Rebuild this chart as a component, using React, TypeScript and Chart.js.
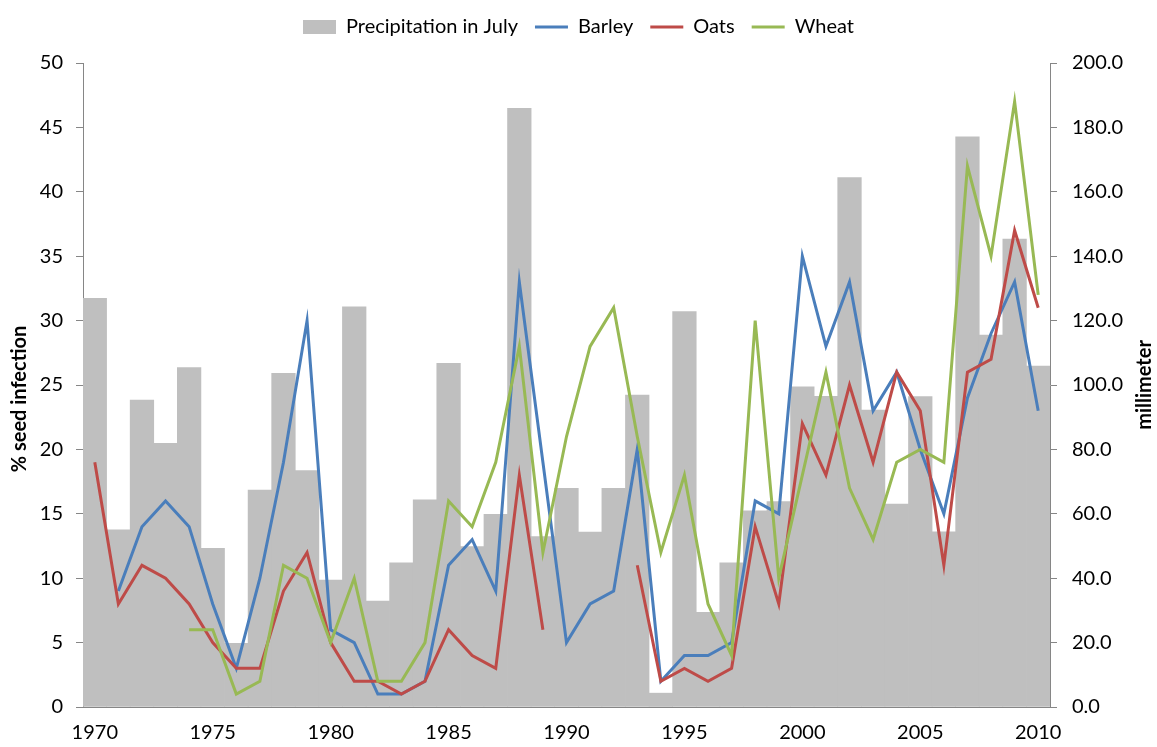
import React, { useEffect, useRef } from 'react';
import { Chart, registerables } from 'chart.js';

Chart.register(...registerables);

const years: string[] = [
  '1970', '1971', '1972', '1973', '1974', '1975', '1976', '1977', '1978', '1979',
  '1980', '1981', '1982', '1983', '1984', '1985', '1986', '1987', '1988', '1989',
  '1990', '1991', '1992', '1993', '1994', '1995', '1996', '1997', '1998', '1999',
  '2000', '2001', '2002', '2003', '2004', '2005', '2006', '2007', '2008', '2009', '2010',
];

const precipitation: number[] = [
  126.9, 55.0, 95.3, 81.9, 105.4, 49.3, 19.8, 67.4, 103.6, 73.4,
  39.4, 124.3, 32.9, 44.8, 64.3, 106.7, 49.8, 59.8, 185.9, 52.9,
  67.9, 54.3, 67.9, 96.9, 4.3, 122.8, 29.4, 44.8, 60.9, 63.8,
  99.4, 96.5, 164.4, 92.2, 63.0, 96.4, 54.4, 177.1, 115.5, 145.3, 105.9,
];

const barley: (number | null)[] = [
  null, 9, 14, 16, 14, 8, 3, 10, 19, 30,
  6, 5, 1, 1, 2, 11, 13, 9, 33, 19,
  5, 8, 9, 20, 2, 4, 4, 5, 16, 15,
  35, 28, 33, 23, 26, 20, 15, 24, 29, 33, 23,
];

const oats: (number | null)[] = [
  19, 8, 11, 10, 8, 5, 3, 3, 9, 12,
  5, 2, 2, 1, 2, 6, 4, 3, 18, 6,
  null, null, null, 11, 2, 3, 2, 3, 14, 8,
  22, 18, 25, 19, 26, 23, 11, 26, 27, 37, 31,
];

const wheat: (number | null)[] = [
  null, null, null, null, 6, 6, 1, 2, 11, 10,
  5, 10, 2, 2, 5, 16, 14, 19, 28, 12,
  21, 28, 31, 21, 12, 18, 8, 4, 30, 10,
  18, 26, 17, 13, 19, 20, 19, 42, 35, 47, 32,
];

const leftTitle = '% seed infection';
const rightTitle = 'millimeter';

const FONT = 'Lato, "Open Sans", sans-serif';
const AXIS = '#868686';
const FS = 20;

export default function App() {
  const ref = useRef<HTMLCanvasElement | null>(null);

  useEffect(() => {
    let chart: Chart | null = null;
    let cancelled = false;

    const titles = {
      id: 'axisTitles',
      afterDraw(c: any) {
        const ctx = c.ctx;
        const area = c.chartArea;
        ctx.save();
        ctx.font = 'bold ' + FS + 'px ' + FONT;
        ctx.fillStyle = '#000';
        ctx.textAlign = 'center';
        ctx.textBaseline = 'middle';
        ctx.save();
        ctx.translate(20, 399);
        ctx.rotate(-Math.PI / 2);
        ctx.fillText(leftTitle, 0, 0);
        ctx.restore();
        ctx.save();
        ctx.translate(1145, (area.top + area.bottom) / 2);
        ctx.rotate(-Math.PI / 2);
        ctx.fillText(rightTitle, 0, 0);
        ctx.restore();
        ctx.restore();
      },
    };

    const create = () => {
      if (cancelled || !ref.current) return;
      chart = new Chart(ref.current, {
        type: 'bar',
        data: {
          labels: years,
          datasets: [
            {
              type: 'bar',
              label: 'Precipitation in July',
              data: precipitation,
              backgroundColor: '#BFBFBF',
              borderWidth: 0,
              yAxisID: 'y1',
              xAxisID: 'x',
              order: 10,
              barPercentage: 1,
              categoryPercentage: 1,
              pointStyle: 'rect',
            } as any,
            {
              type: 'line',
              label: 'Barley',
              data: barley,
              borderColor: '#4A7EBB',
              backgroundColor: '#4A7EBB',
              borderWidth: 3,
              pointRadius: 0,
              pointStyle: 'line',
              tension: 0,
              yAxisID: 'y',
              xAxisID: 'x',
              order: 3,
            } as any,
            {
              type: 'line',
              label: 'Oats',
              data: oats,
              borderColor: '#BE4B48',
              backgroundColor: '#BE4B48',
              borderWidth: 3,
              pointRadius: 0,
              pointStyle: 'line',
              tension: 0,
              yAxisID: 'y',
              xAxisID: 'x',
              order: 2,
            } as any,
            {
              type: 'line',
              label: 'Wheat',
              data: wheat,
              borderColor: '#98B954',
              backgroundColor: '#98B954',
              borderWidth: 3,
              pointRadius: 0,
              pointStyle: 'line',
              tension: 0,
              yAxisID: 'y',
              xAxisID: 'x',
              order: 1,
            } as any,
          ],
        },
        options: {
          responsive: false,
          animation: false,
          layout: { padding: { top: 0, left: 0, right: 0, bottom: 0 } },
          plugins: {
            legend: {
              position: 'top',
              labels: {
                usePointStyle: true,
                pointStyleWidth: 33,
                boxHeight: 14,
                padding: 17,
                color: '#000',
                font: { family: FONT, size: FS },
                sort: (a: any, b: any) => a.datasetIndex - b.datasetIndex,
              },
            },
            tooltip: { enabled: false },
          },
          scales: {
            x: {
              type: 'category',
              position: 'bottom',
              offset: true,
              grid: { display: false, drawTicks: false },
              border: { display: true, color: AXIS, width: 1 },
              ticks: {
                autoSkip: false,
                maxRotation: 0,
                minRotation: 0,
                padding: 14,
                color: '#000',
                font: { family: FONT, size: FS },
                callback: (_v: any, i: number) => (i % 5 === 0 ? years[i] : ''),
              },
              afterFit: (s: any) => {
                s.height = 40;
              },
            },
            xTop: {
              type: 'category',
              position: 'top',
              display: true,
              grid: { display: false, drawTicks: false },
              border: { display: false },
              ticks: { display: false },
              afterFit: (s: any) => {
                s.height = 16;
              },
            },
            y: {
              type: 'linear',
              position: 'left',
              min: 0,
              max: 50,
              grid: { display: true, drawOnChartArea: false, drawTicks: true, tickLength: 7, color: AXIS },
              border: { display: true, color: AXIS, width: 1 },
              ticks: {
                stepSize: 5,
                padding: 13,
                color: '#000',
                font: { family: FONT, size: FS },
              },
              afterFit: (s: any) => {
                s.width = 83;
              },
            },
            y1: {
              type: 'linear',
              position: 'right',
              min: 0,
              max: 200,
              grid: { display: true, drawOnChartArea: false, drawTicks: true, tickLength: 7, color: AXIS },
              border: { display: true, color: AXIS, width: 1 },
              ticks: {
                stepSize: 20,
                padding: 15,
                color: '#000',
                font: { family: FONT, size: FS },
                callback: (v: any) => Number(v).toFixed(1),
              },
              afterFit: (s: any) => {
                s.width = 107;
              },
            },
          },
        } as any,
        plugins: [titles],
      });
    };

    const fontsReady = (document as any).fonts
      ? Promise.all([
          (document as any).fonts.load(FS + 'px Lato'),
          (document as any).fonts.load('bold ' + FS + 'px Lato'),
        ]).catch(() => null)
      : Promise.resolve(null);
    fontsReady.then(create);

    return () => {
      cancelled = true;
      if (chart) chart.destroy();
    };
  }, []);

  return (
    <div style={{ position: 'absolute', left: 0, top: 0, width: 1157, height: 747, background: '#fff' }}>
      <canvas ref={ref} width={1157} height={747} style={{ display: 'block' }} />
    </div>
  );
}
